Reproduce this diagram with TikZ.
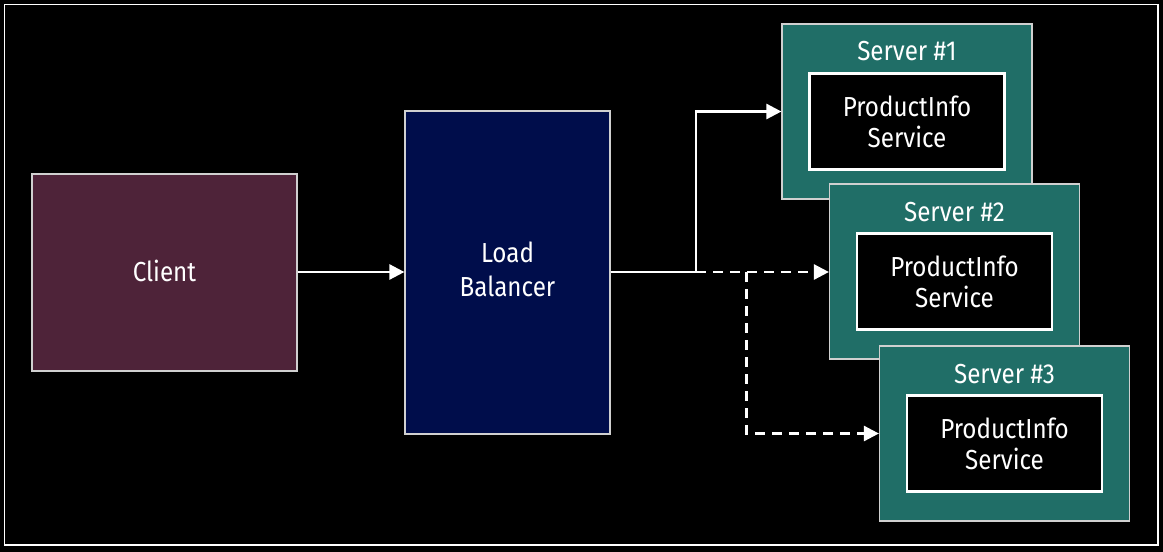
\documentclass[tikz,border=0pt]{standalone}
\usepackage{fontspec}
\setmainfont{Fira Sans}[FakeStretch=0.88]
\usetikzlibrary{arrows.meta}
\definecolor{clientfill}{HTML}{4E2339}
\definecolor{lbfill}{HTML}{000D4B}
\definecolor{teal}{HTML}{206E67}
\definecolor{edgegray}{HTML}{D0D0D0}
\tikzset{
  x=1pt, y=-1pt,
  box/.style={draw=edgegray, line width=1.2pt, inner sep=0pt, text=white,
    font=\fontsize{27.5}{34}\selectfont, align=center},
  outerbox/.style={box, fill=teal, minimum width=250pt, minimum height=175pt},
  innerbox/.style={draw=white, line width=2.6pt, fill=black, inner sep=0pt,
    minimum width=195pt, minimum height=96pt, text=white,
    font=\fontsize{27.5}{31}\selectfont, align=center},
  lbl/.style={text=white, font=\fontsize{27.5}{31}\selectfont, inner sep=0pt},
  conn/.style={draw=white, line width=2.6pt, -{Triangle[length=15pt,width=15pt]}},
  dconn/.style={conn, dash pattern=on 10pt off 7pt},
}
\begin{document}
\begin{tikzpicture}
\fill[black] (0,0) rectangle (1163,552);
\useasboundingbox (0,0) rectangle (1163,552);
\draw[white, line width=1.5pt] (4.5,4.5) rectangle (1158,545);

\node[box, fill=clientfill, minimum width=265pt, minimum height=197pt] (client) at (164.5,272.5) {};
\node[text=white, font=\fontsize{27.5}{34}\selectfont, inner sep=0pt] (clientlbl) at (164.5,271) {Client};
\node[box, fill=lbfill, minimum width=205pt, minimum height=323pt] (lb) at (507.5,272.5) {};
\node[text=white, font=\fontsize{27.5}{34}\selectfont, inner sep=0pt, align=center] (lblbl) at (507.5,269) {Load\\Balancer};

\node[outerbox] (s1) at (907,111.5) {};
\node[innerbox] (p1) at (907,121.5) {ProductInfo\\Service};
\node[lbl] (l1) at (907,51) {Server \#1};

\node[outerbox] (s2) at (954.5,271.5) {};
\node[innerbox] (p2) at (954.5,281.5) {ProductInfo\\Service};
\node[lbl] (l2) at (954.5,212) {Server \#2};

\node[outerbox] (s3) at (1004.5,433.5) {};
\node[innerbox] (p3) at (1004.5,443.5) {ProductInfo\\Service};
\node[lbl] (l3) at (1004.5,374) {Server \#3};

\coordinate (j1) at (696,272);
\coordinate (j2) at (746.5,272);

\draw[conn] (client.east |- 0,272) -- (lb.west |- 0,272);
\draw[conn] (lb.east |- 0,272) -- (j1) |- (s1.west);
\draw[dconn] (j1) -- (s2.west |- j1);
\draw[dconn] (j2) |- (s3.west);
\end{tikzpicture}
\end{document}
